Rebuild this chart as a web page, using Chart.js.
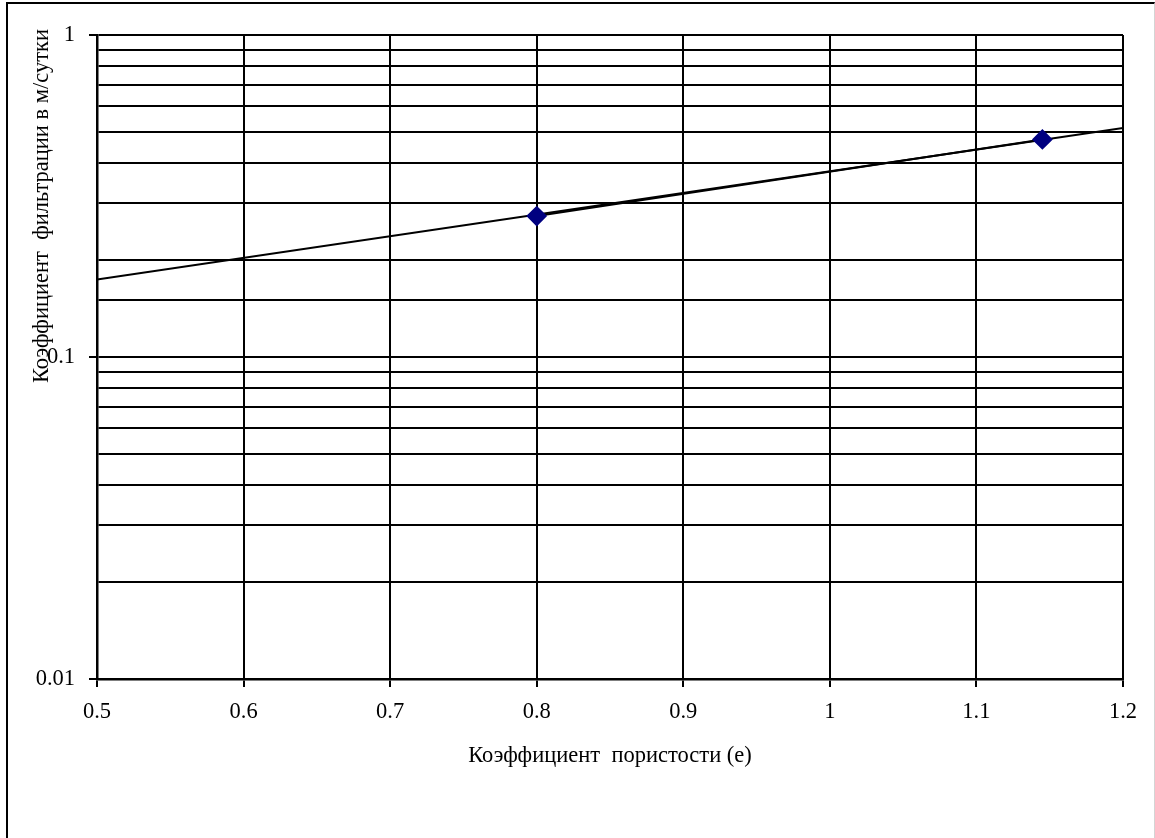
<!DOCTYPE html>
<html>
<head>
<meta charset="utf-8">
<script src="https://cdn.jsdelivr.net/npm/chart.js@4/dist/chart.umd.min.js"></script>
<style>
    body { margin: 0; background: #fff; }
    #wrap { position: relative; width: 1155px; height: 838px; }
    #chart { position: absolute; left: 0; top: 0; }
    #frame {
        position: absolute; left: 6px; top: 2px; right: 0; bottom: -4px;
        border-left: 2px solid #000; border-top: 2px solid #000;
        border-right: 1px solid #d4d4d4;
        pointer-events: none;
    }
</style>
</head>
<body>
<div id="wrap">
    <canvas id="chart" width="1155" height="838"></canvas>
    <div id="frame"></div>
</div>
<script>
// measured points: porosity coefficient vs filtration coefficient
const porosity = [0.8, 1.145];
const filtration = [0.274, 0.474];

// exponential trend line ends
const trendX = [0.5, 1.2];
const trendY = [0.174, 0.514];

const xTickLabels = ['0.5', '0.6', '0.7', '0.8', '0.9', '1', '1.1', '1.2'];
const yTickLabels = ['0.01', '0.1', '1'];

const xTitle = 'Коэффициент  пористости (е)';
const yTitle = 'Коэффициент  фильтрации в м/сутки';

const fontFamily = '"Liberation Serif", "Times New Roman", serif';
const fontSize = 22.5;

let myChart = null;

window.onload = function () {
    initChart();
};

function pairs(xs, ys) {
    let out = [];
    for (let i = 0; i < xs.length; ++i) {
        out.push({ x: xs[i], y: ys[i] });
    }
    return out;
}

// y title sits high on the left, like the original sheet
const yTitlePlugin = {
    id: 'yTitle',
    afterDraw(chart) {
        let ctx = chart.ctx;
        ctx.save();
        ctx.translate(42, 206);
        ctx.rotate(-Math.PI / 2);
        ctx.font = fontSize + 'px ' + fontFamily;
        ctx.fillStyle = '#000';
        ctx.textAlign = 'center';
        ctx.textBaseline = 'middle';
        ctx.fillText(yTitle, 0, 0);
        ctx.restore();
    }
};

function initChart() {
    let ctx = document.getElementById('chart').getContext('2d');
    myChart = new Chart(ctx, {
        type: 'scatter',
        data: {
            datasets: [{
                label: 'trend',
                data: pairs(trendX, trendY),
                showLine: true,
                borderColor: '#000',
                borderWidth: 2,
                pointRadius: 0,
                order: 2
            }, {
                label: 'measured',
                data: pairs(porosity, filtration),
                showLine: true,
                borderColor: '#000',
                borderWidth: 2,
                pointStyle: 'rectRot',
                pointRadius: 9,
                pointBackgroundColor: '#000080',
                pointBorderColor: '#000080',
                order: 1
            }]
        },
        options: {
            responsive: false,
            animation: false,
            layout: {
                padding: { top: 35, right: 32, left: 0, bottom: 0 }
            },
            plugins: {
                legend: { display: false },
                tooltip: { enabled: false }
            },
            scales: {
                x: {
                    type: 'linear',
                    min: 0.5,
                    max: 1.2,
                    afterFit: function (scale) { scale.height = 159; },
                    ticks: {
                        stepSize: 0.1,
                        color: '#000',
                        padding: 12,
                        font: { family: fontFamily, size: fontSize },
                        callback: function (value, index) {
                            return xTickLabels[index];
                        }
                    },
                    grid: {
                        color: '#000',
                        lineWidth: 2,
                        tickLength: 8,
                        tickColor: '#000'
                    },
                    border: { color: '#000', width: 2.5 },
                    title: {
                        display: true,
                        text: xTitle,
                        color: '#000',
                        font: { family: fontFamily, size: fontSize },
                        padding: { top: 0, bottom: 68 }
                    }
                },
                y: {
                    type: 'logarithmic',
                    min: 0.01,
                    max: 1,
                    afterFit: function (scale) { scale.width = 97; },
                    ticks: {
                        autoSkip: false,
                        color: '#000',
                        padding: 14,
                        font: { family: fontFamily, size: fontSize },
                        callback: function (value) {
                            let p = Math.round(Math.log10(value));
                            if (Math.abs(Math.log10(value) - p) < 1e-6) {
                                return yTickLabels[p + 2];
                            }
                            return '';
                        }
                    },
                    grid: {
                        color: '#000',
                        lineWidth: 2,
                        tickLength: 8,
                        tickColor: function (c) {
                            let v = c.tick ? c.tick.value : 0;
                            let p = Math.log10(v);
                            return Math.abs(p - Math.round(p)) < 1e-6 ? '#000' : 'rgba(0,0,0,0)';
                        }
                    },
                    border: { color: '#000', width: 2.5 }
                }
            }
        },
        plugins: [yTitlePlugin]
    });
}
</script>
</body>
</html>
